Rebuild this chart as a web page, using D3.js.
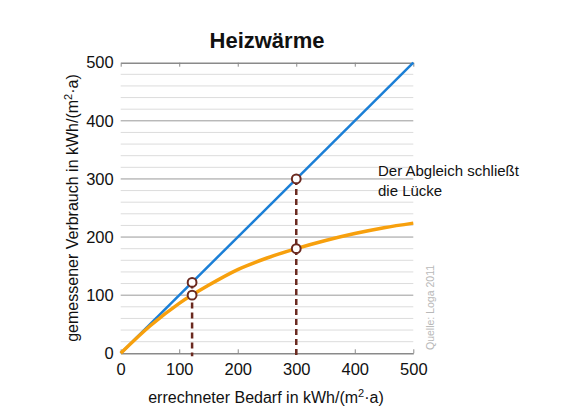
<!DOCTYPE html>
<html><head><meta charset="utf-8">
<script src="https://cdn.jsdelivr.net/npm/d3@7"></script>
<style>body{margin:0;background:#fff;}svg{display:block;font-family:"Liberation Sans",Arial,sans-serif;}</style>
</head><body>
<svg id="c" width="573" height="415"></svg>
<script>
const title = "Heizwärme";
const xTicks = [0, 100, 200, 300, 400, 500];
const yTicks = [0, 100, 200, 300, 400, 500];
const minorTicks = d3.range(0, 501, 20);
const blueX = [0, 500];
const blueY = [0, 500];
const orangeX = [0, 50, 100, 150, 200, 250, 300, 350, 400, 450, 500];
const orangeY = [0, 47, 86, 117, 144, 164, 180, 194, 206, 216, 224];
const markX = [122, 122, 300, 300];
const markY = [122, 100, 300, 180];
const dropX = [122, 300];
const dropTop = [122, 300];
const annotation = ["Der Abgleich schließt", "die Lücke"];
const source = "Quelle:  Loga 2011";

const svg = d3.select("#c");
const x = d3.scaleLinear().domain([0, 500]).range([120.7, 413.3]);
const y = d3.scaleLinear().domain([0, 500]).range([353.3, 62.7]);

// minor grid
svg.append("g").selectAll("line").data(minorTicks.filter(v => v % 100 !== 0)).join("line")
  .attr("x1", x(0)).attr("x2", x(500)).attr("y1", d => y(d)).attr("y2", d => y(d))
  .attr("stroke", "#dcdcdc").attr("stroke-width", 1);
// major grid
svg.append("g").selectAll("line").data(yTicks.filter(v => v > 0 && v < 500)).join("line")
  .attr("x1", x(0)).attr("x2", x(500)).attr("y1", d => y(d)).attr("y2", d => y(d))
  .attr("stroke", "#9a9a9a").attr("stroke-width", 1);

// bottom axis
const xb = svg.append("g").attr("transform", `translate(0,${y(0)})`)
  .call(d3.axisBottom(x).tickValues(xTicks).tickSizeInner(-4).tickSizeOuter(0).tickPadding(10));
xb.select(".domain").attr("stroke", "#8a8a8a").attr("stroke-width", 1.5);
xb.selectAll(".tick line").attr("stroke", "#8a8a8a");
xb.selectAll("text").attr("font-size", 16.5).attr("fill", "#111").attr("font-family", "Liberation Sans, Arial");
// top axis
const xt = svg.append("g").attr("transform", `translate(0,${y(500)})`)
  .call(d3.axisTop(x).tickValues(xTicks).tickSizeInner(-4).tickSizeOuter(0).tickFormat(""));
xt.select(".domain").attr("stroke", "#8a8a8a").attr("stroke-width", 1.5);
xt.selectAll(".tick line").attr("stroke", "#8a8a8a");
// left axis labels
const yl = svg.append("g").attr("transform", `translate(${x(0)},0)`)
  .call(d3.axisLeft(y).tickValues(yTicks).tickSize(0).tickPadding(7));
yl.select(".domain").remove();
yl.selectAll("text").attr("font-size", 16.5).attr("fill", "#111").attr("font-family", "Liberation Sans, Arial");

// blue line
svg.append("path").datum(blueX.map((v, i) => [v, blueY[i]]))
  .attr("d", d3.line().x(d => x(d[0])).y(d => y(d[1])))
  .attr("fill", "none").attr("stroke", "#1b7fd6").attr("stroke-width", 2.5);
// orange curve
svg.append("path").datum(orangeX.map((v, i) => [v, orangeY[i]]))
  .attr("d", d3.line().x(d => x(d[0])).y(d => y(d[1])).curve(d3.curveMonotoneX))
  .attr("fill", "none").attr("stroke", "#f7a00d").attr("stroke-width", 3.5);

// dashed drops
svg.append("g").selectAll("line").data(dropX).join("line")
  .attr("x1", d => x(d)).attr("x2", d => x(d))
  .attr("y1", (d, i) => y(dropTop[i])).attr("y2", y(0) + 3)
  .attr("stroke", "#6b2a20").attr("stroke-width", 2.5).attr("stroke-dasharray", "6,4");

// markers
svg.append("g").selectAll("circle").data(markX).join("circle")
  .attr("cx", d => x(d)).attr("cy", (d, i) => y(markY[i])).attr("r", 4.4)
  .attr("fill", "#fff").attr("stroke", "#6b2a20").attr("stroke-width", 2);

// title
svg.append("text").attr("x", 267).attr("y", 48).attr("text-anchor", "middle")
  .attr("font-size", 22).attr("font-weight", "bold").attr("fill", "#111").text(title);

// axis titles
svg.append("text").attr("x", 266).attr("y", 403).attr("text-anchor", "middle")
  .attr("font-size", 16).attr("fill", "#111")
  .html('errechneter Bedarf in kWh/(m<tspan dy="-6" font-size="11">2</tspan><tspan dy="6">·a)</tspan>');
svg.append("text").attr("transform", "translate(78,208) rotate(-90)").attr("text-anchor", "middle")
  .attr("font-size", 16).attr("fill", "#111")
  .html('gemessener Verbrauch in kWh/(m<tspan dy="-6" font-size="11">2</tspan><tspan dy="6">·a)</tspan>');

// annotation
svg.append("g").selectAll("text").data(annotation).join("text")
  .attr("x", 378).attr("y", (d, i) => 176 + i * 20)
  .attr("font-size", 15).attr("fill", "#111").text(d => d);

// source
svg.append("text").attr("transform", "translate(434,350) rotate(-90)")
  .attr("font-size", 10.5).attr("fill", "#b8b8b8").text(source);
</script>
</body></html>
